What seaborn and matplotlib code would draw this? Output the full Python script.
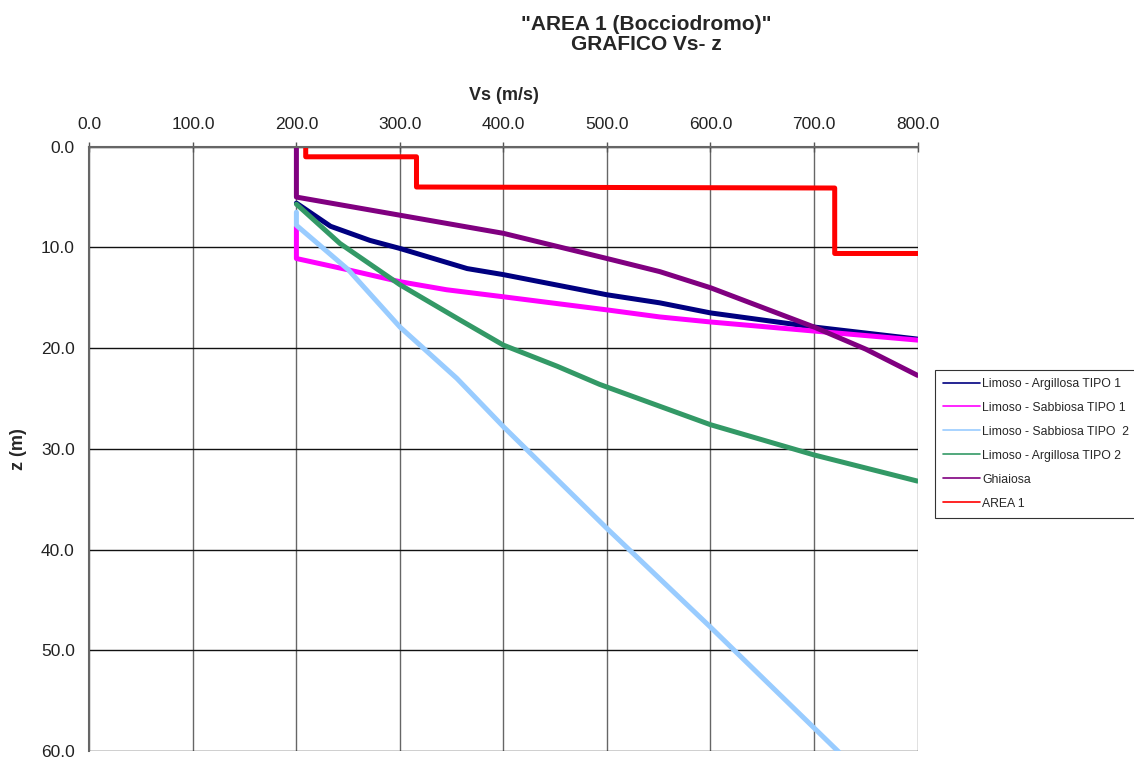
import pandas as pd
import numpy as np
import matplotlib
matplotlib.use("Agg")
import matplotlib.pyplot as plt
import seaborn as sns

# Vs (m/s) and depth z (m), one pair of lists per profile
labels = ["Limoso - Argillosa TIPO 1", "Limoso - Sabbiosa TIPO 1", "Limoso - Sabbiosa TIPO  2",
          "Limoso - Argillosa TIPO 2", "Ghiaiosa", "AREA 1"]
colors = ["#000080", "#FF00FF", "#99CCFF", "#339966", "#800080", "#FF0000"]

vs_arg1 = [200, 233, 271, 300, 365, 400, 500, 551, 600, 700, 800]
z_arg1 = [5.6, 7.9, 9.3, 10.1, 12.1, 12.7, 14.7, 15.5, 16.5, 17.9, 19.1]

vs_sab1 = [200, 200, 249, 300, 345, 400, 500, 551, 600, 700, 800]
z_sab1 = [7.9, 11.1, 12.2, 13.4, 14.2, 14.9, 16.2, 16.9, 17.4, 18.3, 19.2]

vs_sab2 = [200, 200, 250, 300, 355, 400, 500, 600, 700, 725]
z_sab2 = [6.5, 7.8, 12.2, 17.9, 23.0, 27.8, 37.9, 47.7, 57.7, 60.2]

vs_arg2 = [200, 242, 300, 358, 400, 452, 493, 600, 700, 800]
z_arg2 = [5.7, 9.6, 13.7, 17.2, 19.7, 21.8, 23.6, 27.6, 30.6, 33.2]

vs_ghiaia = [200, 200, 300, 400, 500, 551, 600, 700, 750, 800]
z_ghiaia = [0.0, 5.0, 6.8, 8.6, 11.1, 12.4, 14.0, 17.9, 20.1, 22.7]

vs_area1 = [209, 209, 316, 316, 720, 720, 900]
z_area1 = [0.0, 1.0, 1.0, 4.0, 4.1, 10.6, 10.6]

profiles = [(vs_arg1, z_arg1), (vs_sab1, z_sab1), (vs_sab2, z_sab2),
            (vs_arg2, z_arg2), (vs_ghiaia, z_ghiaia), (vs_area1, z_area1)]

frames = []
for name, (vs, z) in zip(labels, profiles):
    frames.append(pd.DataFrame({"Vs": vs, "z": z, "serie": name}))
df = pd.concat(frames, ignore_index=True)

sns.set_style("white")
plt.rcParams["font.family"] = ["Liberation Sans", "DejaVu Sans"]

fig = plt.figure(figsize=(11.34, 7.61), dpi=100)
ax = fig.add_axes([0.0788, 0.0131, 0.7303, 0.7941])

sns.lineplot(data=df, x="Vs", y="z", hue="serie", hue_order=labels,
             palette=dict(zip(labels, colors)), sort=False, estimator=None,
             linewidth=3.6, ax=ax, clip_on=True)

ax.set_xlim(0, 800)
ax.set_ylim(60, 0)
ax.set_xticks(np.arange(0, 801, 100))
ax.set_yticks(np.arange(0, 61, 10))
ax.set_xticklabels([f"{v:.1f}" for v in np.arange(0, 801, 100)])
ax.set_yticklabels([f"{v:.1f}" for v in np.arange(0, 61, 10)])
ax.xaxis.tick_top()
ax.xaxis.set_label_position("top")
ax.tick_params(axis="both", direction="inout", length=7, width=1, color="#555555",
               labelsize=12.5, labelcolor="#222222", pad=7)
ax.xaxis.grid(True, color="#666666", linewidth=1)
ax.yaxis.grid(True, color="#111111", linewidth=1)
ax.set_axisbelow(True)

for side in ["right", "bottom"]:
    ax.spines[side].set_visible(False)
for side in ["left", "top"]:
    ax.spines[side].set_color("#666666")
    ax.spines[side].set_linewidth(1.5)

ax.set_xlabel("Vs (m/s)", fontsize=13, fontweight="bold", labelpad=12)
ax.set_ylabel("z (m)", fontsize=13, fontweight="bold", labelpad=10)

ax.legend_.remove()
handles, _ = ax.get_legend_handles_labels()
leg = fig.legend(handles, labels, loc="upper left", bbox_to_anchor=(0.8245, 0.514),
                 frameon=True, fancybox=False, fontsize=8.8, labelspacing=0.98,
                 handlelength=3.0, handletextpad=0.2, borderpad=0.65, borderaxespad=0)
leg.get_frame().set_edgecolor("black")
leg.get_frame().set_linewidth(0.8)
for line in leg.get_lines():
    line.set_linewidth(1.2)

fig.text(0.57, 0.98, "\"AREA 1 (Bocciodromo)\"\nGRAFICO Vs- z", ha="center", va="top",
         fontsize=15, fontweight="bold", linespacing=1.02)

fig.savefig("out.png", dpi=100)
